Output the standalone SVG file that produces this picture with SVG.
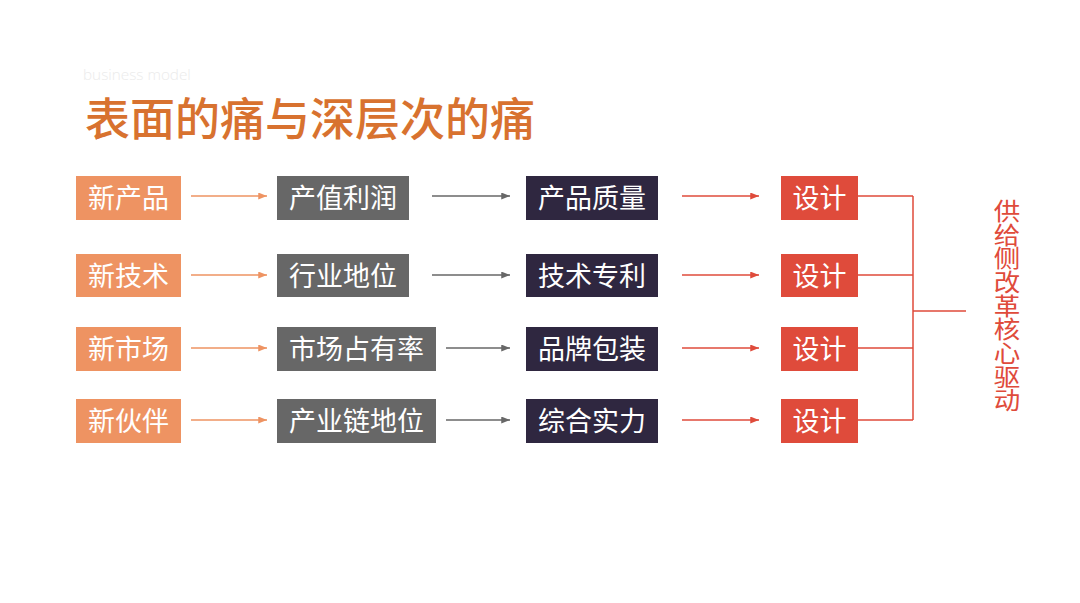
<svg xmlns="http://www.w3.org/2000/svg" width="1080" height="603" viewBox="0 0 1080 603">
<defs>
<style>
.t{font-family:"Noto Sans CJK SC","Noto Sans",sans-serif;font-size:27px;fill:#ffffff;text-anchor:middle}
.o{fill:#EE9362}
.g{fill:#676767}
.d{fill:#2F2740}
.r{fill:#DF4B3B}
.lo{stroke:#EE9362;stroke-width:1.5;fill:none}
.lg{stroke:#676767;stroke-width:1.5;fill:none}
.lr{stroke:#DF4B3B;stroke-width:1.5;fill:none}
</style>
<marker id="ao" viewBox="0 0 10 8" refX="10" refY="4" markerWidth="9" markerHeight="7" markerUnits="userSpaceOnUse" orient="auto"><path d="M0,0L10,4L0,8z" fill="#EE9362"/></marker>
<marker id="ag" viewBox="0 0 10 8" refX="10" refY="4" markerWidth="9" markerHeight="7" markerUnits="userSpaceOnUse" orient="auto"><path d="M0,0L10,4L0,8z" fill="#676767"/></marker>
<marker id="ar" viewBox="0 0 10 8" refX="10" refY="4" markerWidth="9" markerHeight="7" markerUnits="userSpaceOnUse" orient="auto"><path d="M0,0L10,4L0,8z" fill="#DF4B3B"/></marker>
</defs>
<rect width="1080" height="603" fill="#ffffff"/>
<text x="83" y="80" font-family="'Open Sans','Liberation Sans',sans-serif" font-weight="300" font-size="15.3" fill="#EBEBEB">business model</text>
<text x="85" y="136" font-family="'Noto Sans CJK SC',sans-serif" font-weight="500" font-size="45" fill="#D8722F">表面的痛与深层次的痛</text>

<g id="connectors">
<line class="lo" x1="191" y1="196" x2="267" y2="196" marker-end="url(#ao)"/>
<line class="lo" x1="191" y1="275" x2="267" y2="275" marker-end="url(#ao)"/>
<line class="lo" x1="191" y1="348" x2="267" y2="348" marker-end="url(#ao)"/>
<line class="lo" x1="191" y1="420" x2="267" y2="420" marker-end="url(#ao)"/>
<line class="lg" x1="432" y1="196" x2="510" y2="196" marker-end="url(#ag)"/>
<line class="lg" x1="432" y1="275" x2="510" y2="275" marker-end="url(#ag)"/>
<line class="lg" x1="446" y1="348" x2="510" y2="348" marker-end="url(#ag)"/>
<line class="lg" x1="446" y1="420" x2="510" y2="420" marker-end="url(#ag)"/>
<line class="lr" x1="682" y1="196" x2="759" y2="196" marker-end="url(#ar)"/>
<line class="lr" x1="682" y1="275" x2="759" y2="275" marker-end="url(#ar)"/>
<line class="lr" x1="682" y1="348" x2="759" y2="348" marker-end="url(#ar)"/>
<line class="lr" x1="682" y1="420" x2="759" y2="420" marker-end="url(#ar)"/>
<path class="lr" d="M858,196H913M858,275H913M858,348H913M858,420H913M913,196V420M913,311H966"/>
</g>

<g id="n-new-product"><rect class="o" x="76" y="176" width="105" height="44"/><text class="t" x="128.5" y="208">新产品</text></g>
<g id="n-new-tech"><rect class="o" x="76" y="254" width="105" height="43"/><text class="t" x="128.5" y="285.5">新技术</text></g>
<g id="n-new-market"><rect class="o" x="76" y="327" width="105" height="44"/><text class="t" x="128.5" y="359">新市场</text></g>
<g id="n-new-partner"><rect class="o" x="76" y="399" width="105" height="44"/><text class="t" x="128.5" y="431">新伙伴</text></g>

<g id="n-profit"><rect class="g" x="277" y="176" width="132" height="44"/><text class="t" x="343" y="208">产值利润</text></g>
<g id="n-status"><rect class="g" x="277" y="254" width="132" height="43"/><text class="t" x="343" y="285.5">行业地位</text></g>
<g id="n-share"><rect class="g" x="277" y="327" width="159" height="44"/><text class="t" x="356.5" y="359">市场占有率</text></g>
<g id="n-chain"><rect class="g" x="277" y="399" width="159" height="44"/><text class="t" x="356.5" y="431">产业链地位</text></g>

<g id="n-quality"><rect class="d" x="526" y="176" width="132" height="44"/><text class="t" x="592" y="208">产品质量</text></g>
<g id="n-patent"><rect class="d" x="526" y="254" width="132" height="43"/><text class="t" x="592" y="285.5">技术专利</text></g>
<g id="n-brand"><rect class="d" x="526" y="327" width="132" height="44"/><text class="t" x="592" y="359">品牌包装</text></g>
<g id="n-strength"><rect class="d" x="526" y="399" width="132" height="44"/><text class="t" x="592" y="431">综合实力</text></g>

<g id="n-design1"><rect class="r" x="781" y="176" width="77" height="44"/><text class="t" x="819.5" y="208">设计</text></g>
<g id="n-design2"><rect class="r" x="781" y="254" width="77" height="43"/><text class="t" x="819.5" y="285.5">设计</text></g>
<g id="n-design3"><rect class="r" x="781" y="327" width="77" height="44"/><text class="t" x="819.5" y="359">设计</text></g>
<g id="n-design4"><rect class="r" x="781" y="399" width="77" height="44"/><text class="t" x="819.5" y="431">设计</text></g>

<g id="n-core"><text x="1007" y="199" writing-mode="vertical-rl" transform="translate(1007,0) scale(1.12,1) translate(-1007,0)" font-family="'Noto Sans CJK SC',sans-serif" font-size="23.7" fill="#DF4B3B">供给侧改革核心驱动</text></g>
</svg>
